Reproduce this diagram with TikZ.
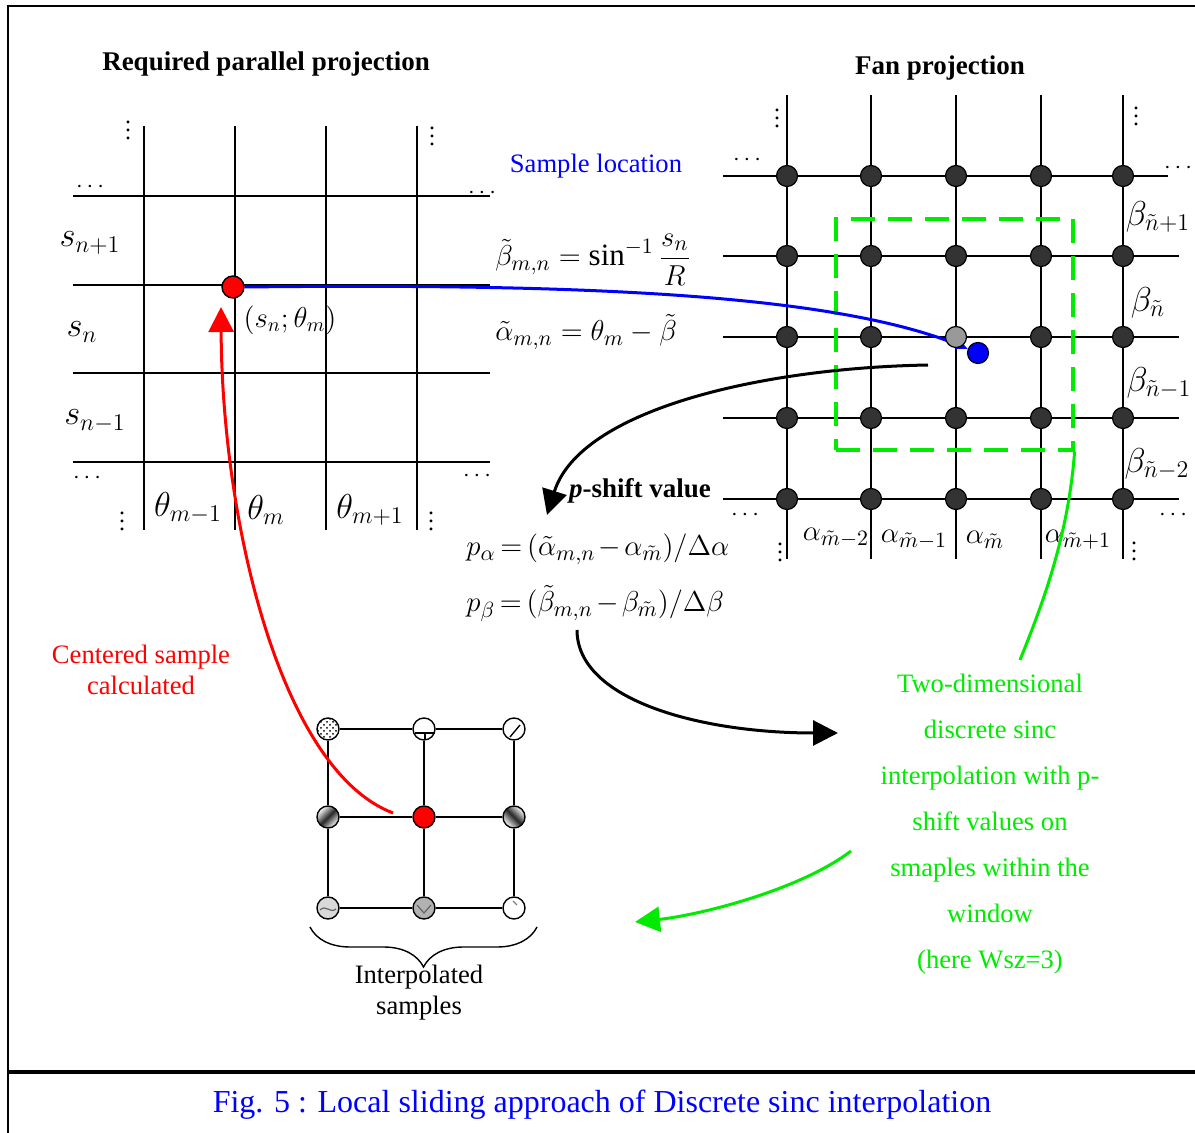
\documentclass[tikz,border=0pt]{standalone}
\usepackage{fontspec}
\setmainfont{Liberation Serif}
\usetikzlibrary{arrows.meta,decorations.pathreplacing,patterns}
\definecolor{lgreen}{RGB}{0,235,0}
\definecolor{dotgray}{RGB}{51,51,51}
\newcommand{\tightmath}{\thickmuskip=3mu\relax\medmuskip=2mu\relax}
\tikzset{
  gline/.style={line width=0.9pt},
  fandot/.style={circle, draw, line width=0.6pt, fill=dotgray, inner sep=0pt, minimum size=10.5pt},
  smpdot/.style={circle, draw, line width=0.7pt, fill=white, inner sep=0pt, minimum size=11pt},
  txt/.style={font=\fontsize{13.3}{16}\selectfont},
  bigm/.style={font=\fontsize{18}{21}\selectfont},
  midm/.style={font=\fontsize{17}{20}\selectfont},
  lowm/.style={font=\fontsize{15.5}{18}\selectfont},
  eqn/.style={font=\fontsize{15.5}{19}\selectfont, inner sep=0pt},
  peqn/.style={font=\fontsize{15.6}{19}\selectfont, inner sep=0pt},
  dotsn/.style={font=\fontsize{12}{14}\selectfont, inner sep=0pt},
  fatarrow/.style={line width=1.5pt, -{Triangle[length=12.5pt,width=12.5pt]}}
}
\begin{document}
\begin{tikzpicture}[x=0.5pt,y=-0.5pt]
\useasboundingbox (0,0) rectangle (1195,1133);
\draw[line width=1pt] (1195,6) -- (8,6) -- (8,1133);
\draw[line width=1.6pt] (8,1072) -- (1195,1072);

\node[font=\fontsize{13.5}{16}\selectfont\bfseries, anchor=base] (ptitle) at (266,71) {Required parallel projection};
\node[font=\fontsize{13.5}{16}\selectfont\bfseries, anchor=base] (ftitle) at (940,75) {Fan projection};

\draw[gline] (144,126) -- (144,530);
\draw[gline] (235,126) -- (235,530);
\draw[gline] (326,126) -- (326,530);
\draw[gline] (417,126) -- (417,530);
\draw[gline] (73,196) -- (490,196);
\draw[gline] (73,285) -- (490,285);
\draw[gline] (73,373) -- (490,373);
\draw[gline] (73,462) -- (490,462);

\node[dotsn] (lv1) at (128,124) {$\vdots$};
\node[dotsn] (lv2) at (432,130) {$\vdots$};
\node[dotsn] (lv3) at (122,515) {$\vdots$};
\node[dotsn] (lv4) at (431,515) {$\vdots$};
\node[dotsn] (lh1) at (90,187) {$\cdots$};
\node[dotsn] (lh2) at (482,193) {$\cdots$};
\node[dotsn] (lh3) at (87,478) {$\cdots$};
\node[dotsn] (lh4) at (477,476) {$\cdots$};

\node[bigm] (sa) at (90,243) {$s_{n+1}$};
\node[bigm] (sb) at (82,332) {$s_n$};
\node[bigm] (sc) at (95,421) {$s_{n-1}$};
\node[bigm] (ta) at (188,508) {$\theta_{m-1}$};
\node[bigm] (tb) at (266,510) {$\theta_m$};
\node[bigm] (tc) at (370,510) {$\theta_{m+1}$};

\node[smpdot, fill=red] (rd) at (233,287) {};
\node[font=\fontsize{14}{16}\selectfont] (loc) at (290,320) {$(s_n;\theta_m)$};

\draw[gline] (787,95) -- (787,559);
\draw[gline] (871,95) -- (871,559);
\draw[gline] (956,95) -- (956,559);
\draw[gline] (1041,95) -- (1041,559);
\draw[gline] (1123,95) -- (1123,559);
\draw[gline] (723,176) -- (1168,176);
\draw[gline] (723,256) -- (1179,256);
\draw[gline] (723,337) -- (1179,337);
\draw[gline] (723,418) -- (1179,418);
\draw[gline] (723,499) -- (1179,499);

\node[draw=lgreen, dash pattern=on 12pt off 6.5pt, line width=1.6pt, minimum width=118.5pt, minimum height=115.5pt, inner sep=0pt] (win) at (954.5,334.5) {};

\node[fandot] (f11) at (787,176) {};
\node[fandot] (f12) at (871,176) {};
\node[fandot] (f13) at (956,176) {};
\node[fandot] (f14) at (1041,176) {};
\node[fandot] (f15) at (1123,176) {};
\node[fandot] (f21) at (787,256) {};
\node[fandot] (f22) at (871,256) {};
\node[fandot] (f23) at (956,256) {};
\node[fandot] (f24) at (1041,256) {};
\node[fandot] (f25) at (1123,256) {};
\node[fandot] (f31) at (787,337) {};
\node[fandot] (f32) at (871,337) {};
\node[fandot] (f34) at (1041,337) {};
\node[fandot] (f35) at (1123,337) {};
\node[fandot] (f41) at (787,418) {};
\node[fandot] (f42) at (871,418) {};
\node[fandot] (f43) at (956,418) {};
\node[fandot] (f44) at (1041,418) {};
\node[fandot] (f45) at (1123,418) {};
\node[fandot] (f51) at (787,499) {};
\node[fandot] (f52) at (871,499) {};
\node[fandot] (f53) at (956,499) {};
\node[fandot] (f54) at (1041,499) {};
\node[fandot] (f55) at (1123,499) {};

\node[dotsn] (rv1) at (777,112) {$\vdots$};
\node[dotsn] (rv2) at (1136,110) {$\vdots$};
\node[dotsn] (rv3) at (780,546) {$\vdots$};
\node[dotsn] (rv4) at (1134,545) {$\vdots$};
\node[dotsn] (rh1) at (747,160) {$\cdots$};
\node[dotsn] (rh2) at (1178,168) {$\cdots$};
\node[dotsn] (rh3) at (745,515) {$\cdots$};
\node[dotsn] (rh4) at (1173,515) {$\cdots$};

\node[midm] (ba) at (1158,217) {$\beta_{\tilde n+1}$};
\node[midm] (bb) at (1148,303) {$\beta_{\tilde n}$};
\node[midm] (bc) at (1159,383) {$\beta_{\tilde n-1}$};
\node[midm] (bd2) at (1157,464) {$\beta_{\tilde n-2}$};
\node[lowm] (aa) at (836,538) {$\alpha_{\tilde m-2}$};
\node[lowm] (ab) at (914,540) {$\alpha_{\tilde m-1}$};
\node[lowm] (ac) at (985,540) {$\alpha_{\tilde m}$};
\node[lowm] (ad) at (1078,540) {$\alpha_{\tilde m+1}$};

\node[txt, text=blue, anchor=base] (sloc) at (596,173) {Sample location};
\node[eqn, anchor=base west] (eqb) at (495,266) {$\tilde\beta_{m,n}=\sin^{-1}{\displaystyle\frac{s_n}{R}}$};
\node[eqn, anchor=base west] (eqa) at (495,341) {$\tilde\alpha_{m,n}=\theta_m-\tilde\beta$};
\node[font=\fontsize{13.5}{16}\selectfont\bfseries, anchor=base] (pshift) at (640,498) {\textit{p}-shift value};
\node[peqn, anchor=base west] (pa) at (466,556) {$\tightmath p_\alpha=\bigl(\tilde\alpha_{m,n}-\alpha_{\tilde m}\bigr)/\Delta\alpha$};
\node[peqn, anchor=base west] (pb) at (466,612) {$\tightmath p_\beta=\bigl(\tilde\beta_{m,n}-\beta_{\tilde m}\bigr)/\Delta\beta$};

\node[font=\fontsize{13.3}{15.5}\selectfont, text=red, align=center] (cent) at (141,670) {Centered sample\\calculated};
\node[font=\fontsize{13.3}{23}\selectfont, text=lgreen, align=center] (gtxt) at (990,824) {Two-dimensional\\discrete sinc\\interpolation with p-\\shift values on\\smaples within the\\window\\(here Wsz=3)};

\node[fandot, fill=blue] (bd) at (978,353) {};
\draw[blue, line width=1.5pt, -{Stealth[length=6pt,width=5pt]}] (rd.east) .. controls (600,283) and (840,296) .. (bd);
\node[fandot, fill=black!40] (f33) at (956,337) {};

\node[smpdot, preaction={fill=white}, pattern=crosshatch dots] (b1) at (328,729) {};
\node[smpdot] (b2) at (424,729) {};
\node[smpdot] (b3) at (514,729) {};
\node[smpdot, shading=axis, top color=white, bottom color=white, middle color=black!85, shading angle=45] (b4) at (328,817) {};
\node[smpdot, fill=red] (b5) at (424,817) {};
\node[smpdot, shading=axis, top color=white, bottom color=white, middle color=black!85, shading angle=-45] (b6) at (514,817) {};
\node[smpdot, fill=black!15] (b7) at (328,908) {};
\node[smpdot, fill=black!30] (b8) at (424,908) {};
\node[smpdot] (b9) at (514,908) {};
\draw[line width=0.8pt] (b1) -- (b2) -- (b3);
\draw[line width=0.8pt] (b4) -- (b5) -- (b6);
\draw[line width=0.8pt] (b7) -- (b8) -- (b9);
\draw[line width=0.8pt] (b1) -- (b4) -- (b7);
\draw[line width=0.8pt] (b2) -- (b5) -- (b8);
\draw[line width=0.8pt] (b3) -- (b6) -- (b9);
\draw[line width=0.7pt] ([shift={(-9,4)}]b2.center) -- ([shift={(10,4)}]b2.center);
\draw[line width=0.7pt] ([shift={(1,4)}]b2.center) -- ([shift={(1,11)}]b2.center);
\draw[line width=0.7pt] ([shift={(-4,8)}]b3.center) -- ([shift={(6,-4)}]b3.center);
\draw[line width=0.6pt, black!60] ([shift={(-8,2)}]b7.center) .. controls ([shift={(-2,-4)}]b7.center) and ([shift={(2,6)}]b7.center) .. ([shift={(8,1)}]b7.center);
\draw[line width=0.6pt, black!60] ([shift={(-7,-3)}]b8.center) -- ([shift={(0,5)}]b8.center) -- ([shift={(7,-3)}]b8.center);
\draw[line width=0.6pt, black!50] ([shift={(-1,-7)}]b9.center) -- ([shift={(3,-3)}]b9.center);

\draw[decorate, decoration={brace, mirror, amplitude=20pt}, line width=0.7pt] (310,927) -- (537,927);
\node[font=\fontsize{13.3}{15.5}\selectfont, align=center] (interp) at (419,993) {Interpolated\\samples};

\coordinate (ra) at (393,813);
\coordinate (rb) at (221,307);
\draw[red, fatarrow] (ra) .. controls (280,770) and (222,520) .. (rb);

\coordinate (ka) at (928,365);
\coordinate (kb) at (547,515);
\draw[fatarrow] (ka) .. controls (760,368) and (580,410) .. (kb);

\coordinate (kc) at (577,630);
\coordinate (kd) at (838,733);
\draw[fatarrow] (kc) .. controls (577,700) and (700,733) .. (kd);

\coordinate (ge) at (1020,660);
\draw[lgreen, line width=1.5pt] (win.south east) .. controls (1068,540) and (1040,610) .. (ge);

\coordinate (gf) at (851,851);
\coordinate (gg) at (635,922);
\draw[lgreen, fatarrow] (gf) .. controls (800,890) and (700,915) .. (gg);

\node[font=\fontsize{16}{19}\selectfont, text=blue, anchor=base] (cap) at (602,1112) {Fig. 5 : Local sliding approach of Discrete sinc interpolation};
\end{tikzpicture}
\end{document}
